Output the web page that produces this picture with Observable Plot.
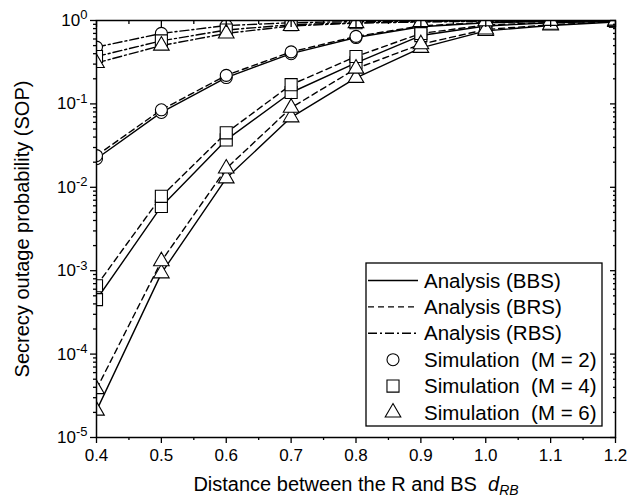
<!DOCTYPE html>
<html><head><meta charset="utf-8">
<script src="https://cdn.jsdelivr.net/npm/d3@7"></script>
<script src="https://cdn.jsdelivr.net/npm/@observablehq/plot@0.6"></script>
<style>
html,body{margin:0;padding:0;background:#fff;}
#chart{width:628px;height:504px;}
svg{font-family:"Liberation Sans", Arial, Helvetica, sans-serif;}
</style></head><body><div id="chart"></div>
<script>
// Distance between R and BS
const dist = [0.4, 0.5, 0.6, 0.7, 0.8, 0.9, 1.0, 1.1, 1.2];
// Analysis (BBS)
const bbsM2 = [0.022, 0.079, 0.207, 0.40, 0.625, 0.84, 0.94, 0.98, 0.995];
const bbsM4 = [4.5e-4, 5.9e-3, 0.037, 0.137, 0.31, 0.66, 0.86, 0.94, 0.98];
const bbsM6 = [2.1e-5, 9.3e-4, 0.0128, 0.069, 0.205, 0.47, 0.75, 0.87, 0.96];
// Analysis (BRS)
const brsM2 = [0.024, 0.085, 0.22, 0.42, 0.645, 0.86, 0.95, 0.985, 0.995];
const brsM4 = [6.6e-4, 7.8e-3, 0.045, 0.17, 0.37, 0.70, 0.88, 0.95, 0.985];
const brsM6 = [3.8e-5, 1.3e-3, 0.0168, 0.09, 0.265, 0.52, 0.78, 0.89, 0.97];
// Analysis (RBS)
const rbsM2 = [0.48, 0.70, 0.87, 0.94, 0.97, 0.985, 0.993, 0.997, 1.0];
const rbsM4 = [0.37, 0.57, 0.77, 0.89, 0.94, 0.97, 0.985, 0.993, 0.998];
const rbsM6 = [0.31, 0.50, 0.70, 0.86, 0.93, 0.96, 0.98, 0.99, 0.997];

const xTicks = [0.4, 0.5, 0.6, 0.7, 0.8, 0.9, 1.0, 1.1, 1.2];
const xMinor = [0.45, 0.55, 0.65, 0.75, 0.85, 0.95, 1.05, 1.15];
const yTicks = [1e-5, 1e-4, 1e-3, 1e-2, 1e-1, 1];
const legendLabels = ["Analysis (BBS)", "Analysis (BRS)", "Analysis (RBS)", "Simulation  (M = 2)", "Simulation  (M = 4)", "Simulation  (M = 6)"];
const xLabel = "Distance between the R and BS";
const yLabel = "Secrecy outage probability (SOP)";

const yMinor = [];
for (let e = -5; e < 0; e++) for (let m = 2; m <= 9; m++) yMinor.push(m * Math.pow(10, e));

const series = [
  {scheme: "BBS", M: 2, v: bbsM2}, {scheme: "BBS", M: 4, v: bbsM4}, {scheme: "BBS", M: 6, v: bbsM6},
  {scheme: "BRS", M: 2, v: brsM2}, {scheme: "BRS", M: 4, v: brsM4}, {scheme: "BRS", M: 6, v: brsM6},
  {scheme: "RBS", M: 2, v: rbsM2}, {scheme: "RBS", M: 4, v: rbsM4}, {scheme: "RBS", M: 6, v: rbsM6}
];
const rows = series.flatMap(s => dist.map((x, i) => ({x, y: s.v[i], scheme: s.scheme, M: s.M, key: s.scheme + s.M})));
const dashes = {BBS: null, BRS: "6,4", RBS: "9,3,2,3"};
const symbols = {2: {symbol: "circle", r: 6}, 4: {symbol: "square", r: 6.8}, 6: {symbol: "triangle", r: 5.8}};

const marks = [];
for (const sc of ["BBS", "BRS", "RBS"]) {
  marks.push(Plot.line(rows.filter(d => d.scheme === sc), {x: "x", y: "y", z: "key", stroke: "black", strokeWidth: 1.4, strokeDasharray: dashes[sc], clip: true}));
}
for (const M of [2, 4, 6]) {
  marks.push(Plot.dot(rows.filter(d => d.M === M), {x: "x", y: "y", symbol: symbols[M].symbol, r: symbols[M].r, fill: "white", stroke: "black", strokeWidth: 1.1, clip: true}));
}

const plot = Plot.plot({
  width: 628, height: 504,
  marginLeft: 96, marginRight: 13, marginTop: 20, marginBottom: 67,
  x: {domain: [0.4, 1.2]},
  y: {type: "log", domain: [1e-5, 1]},
  style: {fontFamily: '"Liberation Sans", Arial, sans-serif', fontSize: "17px", color: "black", background: "white"},
  marks: [
    ...marks,
    Plot.frame({stroke: "black", strokeWidth: 1.5}),
    Plot.axisX({ticks: xTicks, tickFormat: d3.format(".1f"), tickSize: 6, tickPadding: 5, fontSize: 17, label: null, strokeWidth: 1.3}),
    Plot.axisX({ticks: xMinor, tickSize: 3, fill: "none", label: null, strokeWidth: 1.3}),
    Plot.axisX({anchor: "top", ticks: xTicks, tickSize: -6, fill: "none", label: null, strokeWidth: 1.3}),
    Plot.axisX({anchor: "top", ticks: xMinor, tickSize: -3, fill: "none", label: null, strokeWidth: 1.3}),
    Plot.axisY({ticks: yTicks, tickSize: 6, tickPadding: 3, fontSize: 17, tickFormat: d => String(Math.round(Math.log10(d))), label: null, strokeWidth: 1.3}),
    Plot.axisY({ticks: yMinor, tickSize: 3, fill: "none", label: null, strokeWidth: 1.3}),
    Plot.axisY({anchor: "right", ticks: yTicks, tickSize: -6, fill: "none", label: null, strokeWidth: 1.3}),
    Plot.axisY({anchor: "right", ticks: yMinor, tickSize: -3, fill: "none", label: null, strokeWidth: 1.3}),
    Plot.text([xLabel], {frameAnchor: "bottom", dy: 53, text: d => d, fontSize: 20, textAnchor: "middle"}),
    Plot.text([yLabel], {frameAnchor: "left", dx: -74, rotate: -90, text: d => d, fontSize: 20, textAnchor: "middle"})
  ]
});
document.getElementById("chart").appendChild(plot);

const svg = d3.select(plot);
svg.selectAll('g[aria-label="y-axis tick label"] text').each(function () {
  const e = this.textContent.replace("\u2212", "-");
  const t = d3.select(this);
  t.text("10");
  t.append("tspan").attr("dy", "-0.5em").attr("font-size", "13px").text(e);
});
svg.selectAll("text").filter(function () { return this.textContent === xLabel; }).each(function () {
  const t = d3.select(this);
  t.text(xLabel + "\u00a0\u00a0");
  t.append("tspan").attr("font-style", "italic").text("d");
  t.append("tspan").attr("font-style", "italic").attr("font-size", "14px").attr("dy", "0.3em").text("RB");
});

// Legend
const lg = svg.append("g").attr("font-size", 20.5).attr("fill", "black").attr("text-anchor", "start");
const bx = 366, by = 263, bw = 236, bh = 163, rowH = 26.4, firstRow = 280.5;
lg.append("rect").attr("x", bx).attr("y", by).attr("width", bw).attr("height", bh)
  .attr("fill", "white").attr("stroke", "black").attr("stroke-width", 1.3);
const legDash = [null, "6,4", "9,3,2,3"];
const legSym = ["circle", "square", "triangle"];
const symFn = {circle: d3.symbolCircle, square: d3.symbolSquare, triangle: d3.symbolTriangle};
legendLabels.forEach((lab, i) => {
  const y = firstRow + i * rowH;
  if (i < 3) {
    const l = lg.append("line").attr("x1", bx + 2).attr("x2", bx + 52).attr("y1", y).attr("y2", y)
      .attr("stroke", "black").attr("stroke-width", 1.4);
    if (legDash[i]) l.attr("stroke-dasharray", legDash[i]);
  } else {
    const s = symbols[[2, 4, 6][i - 3]];
    lg.append("path").attr("transform", `translate(${bx + 27},${y})`)
      .attr("d", d3.symbol(symFn[legSym[i - 3]], s.r * s.r * Math.PI)())
      .attr("fill", "white").attr("stroke", "black").attr("stroke-width", 1.1);
  }
  lg.append("text").attr("x", bx + 58).attr("y", y).attr("dy", "0.35em").attr("text-anchor", "start")
    .style("white-space", "pre").text(lab);
});
</script></body></html>
